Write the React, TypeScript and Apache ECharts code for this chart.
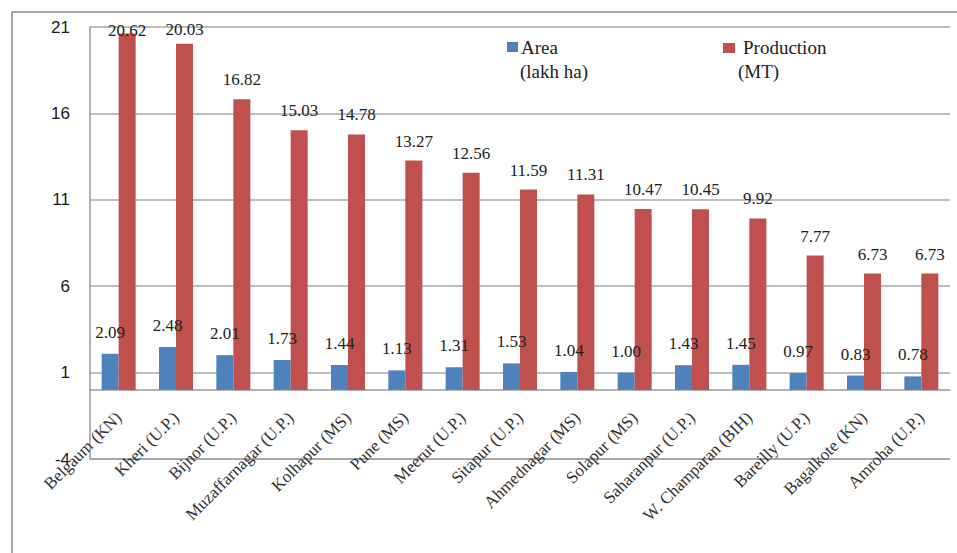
import React, { useEffect, useRef } from "react";
import * as echarts from "echarts";

const categories = [
  "Belgaum (KN)",
  "Kheri (U.P.)",
  "Bijnor (U.P.)",
  "Muzaffarnagar (U.P.)",
  "Kolhapur (MS)",
  "Pune (MS)",
  "Meerut (U.P.)",
  "Sitapur (U.P.)",
  "Ahmednagar (MS)",
  "Solapur (MS)",
  "Saharanpur (U.P.)",
  "W. Champaran (BIH)",
  "Bareilly (U.P.)",
  "Bagalkote (KN)",
  "Amroha (U.P.)",
];

const areaValues = [2.09, 2.48, 2.01, 1.73, 1.44, 1.13, 1.31, 1.53, 1.04, 1.0, 1.43, 1.45, 0.97, 0.83, 0.78];
const productionValues = [20.62, 20.03, 16.82, 15.03, 14.78, 13.27, 12.56, 11.59, 11.31, 10.47, 10.45, 9.92, 7.77, 6.73, 6.73];

const yMin = -4;
const yMax = 21;
const yInterval = 5;

const BLUE = "#4F81BD";
const RED = "#C0504D";
const SERIF = "Liberation Serif";
const SANS = "Liberation Sans";
const GRID_COLOR = "#a8a8a8";

// label offsets for labels that would otherwise run above the plot top
const prodLabelOffsets: Record<number, [number, number]> = { 0: [0, 16], 1: [0, 5] };

export default function App() {
  const ref = useRef<HTMLDivElement>(null);

  useEffect(() => {
    if (!ref.current) return;
    const chart = echarts.init(ref.current, undefined, { renderer: "svg" });

    const W = 957;
    const H = 553;
    const gridLeft = 90;
    const gridRight = 7;
    const gridTop = 27;
    const gridBottom = 94;
    const plotH = H - gridTop - gridBottom;
    // distance from the bottom of the plot (yMin) up to the zero line
    const zeroOffset = ((0 - yMin) / (yMax - yMin)) * plotH;
    const yBottom = H - gridBottom;

    const prodData = productionValues.map((v, i) =>
      prodLabelOffsets[i] ? { value: v, label: { offset: prodLabelOffsets[i] } } : v
    );

    const labelStyle = {
      show: true,
      position: "top" as const,
      fontFamily: SERIF,
      fontSize: 17,
      color: "#222",
      formatter: (p: any) => Number(p.value).toFixed(2),
    };

    chart.setOption({
      animation: false,
      backgroundColor: "#fff",
      textStyle: { fontFamily: SERIF },
      grid: { left: gridLeft, right: gridRight, top: gridTop, bottom: gridBottom, containLabel: false, outerBoundsMode: "none" },
      xAxis: {
        type: "category",
        data: categories,
        offset: -zeroOffset,
        axisLine: { show: true, onZero: false, lineStyle: { color: "#9a9a9a", width: 1.5 } },
        axisTick: { show: false },
        axisLabel: {
          rotate: 45,
          interval: 0,
          margin: 25,
          fontFamily: SERIF,
          fontSize: 17,
          color: "#333",
        },
      },
      yAxis: {
        type: "value",
        min: yMin,
        max: yMax,
        interval: yInterval,
        axisLine: { show: true, lineStyle: { color: "#9a9a9a", width: 1.5 } },
        axisTick: { show: false },
        axisLabel: { margin: 20, fontFamily: SANS, fontSize: 17, color: "#1a1a1a" },
        splitLine: { show: true, showMinLine: true, showMaxLine: true, lineStyle: { color: GRID_COLOR, width: 1.5 } },
      },
      series: [
        {
          name: "Area (lakh ha)",
          type: "bar",
          data: areaValues,
          barWidth: 17,
          barGap: "0%",
          itemStyle: { color: BLUE },
          label: { ...labelStyle, distance: 13 },
        },
        {
          name: "Production (MT)",
          type: "bar",
          data: prodData,
          barWidth: 17,
          barGap: "0%",
          itemStyle: { color: RED },
          label: { ...labelStyle, distance: 11 },
        },
      ],
      graphic: [
        {
          type: "rect",
          shape: { x: 12, y: 12, width: 960, height: 560 },
          style: { fill: "none", stroke: "#8a8a8a", lineWidth: 1.5 },
          silent: true,
          z: -10,
        },
        {
          type: "line",
          shape: { x1: gridLeft, y1: yBottom, x2: W - gridRight, y2: yBottom },
          style: { stroke: GRID_COLOR, lineWidth: 2 },
          silent: true,
          z: -5,
        },
        { type: "rect", shape: { x: 507, y: 42, width: 11, height: 10 }, style: { fill: BLUE } },
        { type: "text", x: 521, y: 38, style: { text: "Area", fontFamily: SERIF, fontSize: 19, fill: "#222" } },
        { type: "text", x: 520, y: 62, style: { text: "(lakh ha)", fontFamily: SERIF, fontSize: 19, fill: "#222" } },
        { type: "rect", shape: { x: 723, y: 43, width: 12, height: 10 }, style: { fill: RED } },
        { type: "text", x: 743, y: 38, style: { text: "Production", fontFamily: SERIF, fontSize: 19, fill: "#222" } },
        { type: "text", x: 738, y: 62, style: { text: "(MT)", fontFamily: SERIF, fontSize: 19, fill: "#222" } },
      ],
    });

    return () => chart.dispose();
  }, []);

  return <div ref={ref} style={{ width: 957, height: 553, position: "absolute", left: 0, top: 0 }} />;
}
